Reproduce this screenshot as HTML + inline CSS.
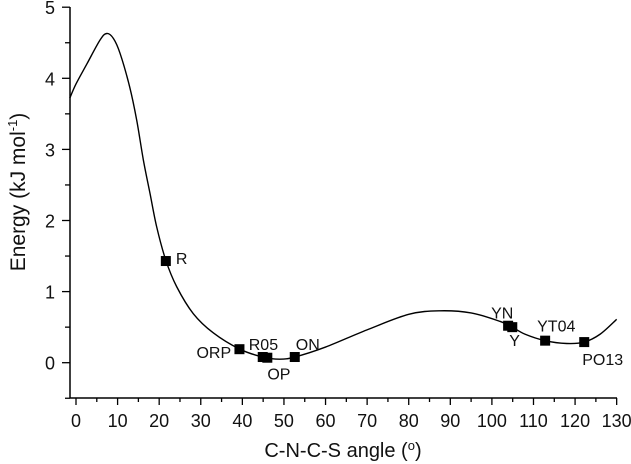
<!DOCTYPE html>
<html><head><meta charset="utf-8"><style>
html,body{margin:0;padding:0;background:#fff}
svg{display:block;font-family:"Liberation Sans",Arial,sans-serif}
</style></head><body>
<svg id="chart" width="631" height="464"></svg>
<script>
const curveX=[-1.5,0,2.6,5.8,7.4,9,10.6,12.9,14.6,16.2,17.8,19.4,21.6,24.2,28.2,33,39.4,44.9,49,52.6,60,69.9,80,87.5,95,102,104.9,108,112.8,118,122.2,126,130];
const curveY=[3.72,3.92,4.2,4.54,4.63,4.56,4.35,3.88,3.41,2.85,2.38,1.91,1.44,1.07,0.69,0.42,0.19,0.08,0.05,0.08,0.22,0.46,0.68,0.73,0.7,0.58,0.5,0.4,0.31,0.27,0.29,0.4,0.61];
const ptNames=["R","ORP","R05","OP","ON","YN","Y","YT04","PO13"];
const ptX=[21.6,39.3,44.9,46,52.6,103.9,104.9,112.8,122.2];
const ptY=[1.43,0.19,0.08,0.07,0.08,0.52,0.5,0.31,0.29];
const xTicks=[0,10,20,30,40,50,60,70,80,90,100,110,120,130];
const yTicks=[0,1,2,3,4,5];
const labelOff=[[10,-2],[-43,4],[-14,-12],[0,17],[1,-12],[-17,-12],[-3,14],[-8,-14],[-2,18]];
const NS="http://www.w3.org/2000/svg";
const svg=document.getElementById('chart');
const X=v=>76+v*4.159, Y=v=>362.7-v*71.1;
function mk(t,a,p){const e=document.createElementNS(NS,t);for(const k in a)e.setAttribute(k,a[k]);(p||svg).appendChild(e);return e;}
let ax=mk('line',{x1:70,y1:7,x2:70,y2:398,stroke:'#000','stroke-width':1.5});


ax=mk('line',{x1:70,y1:398,x2:617,y2:398,stroke:'#000','stroke-width':1.5});


for(let v=0;v<=130;v+=5){const x=X(v);mk('line',{x1:x,y1:398,x2:x,y2:v%10?402:405,stroke:'#000','stroke-width':1.3});}
xTicks.forEach(v=>{const t=mk('text',{x:X(v),y:427,'text-anchor':'middle','font-size':18,fill:'#111'});t.textContent=v;

});
for(let v=-0.5;v<=5;v+=0.5){const y=Y(v);mk('line',{x1:70,y1:y,x2:v%1?65:62,y2:y,stroke:'#000','stroke-width':1.3});}
yTicks.forEach(v=>{const t=mk('text',{x:55,y:Y(v)+7,'text-anchor':'end','font-size':18,fill:'#111'});t.textContent=v;

});
const P=curveX.map((x,i)=>[X(x),Y(curveY[i])]);
let d='M'+P[0][0]+','+P[0][1];
for(let i=0;i<P.length-1;i++){const p0=P[Math.max(0,i-1)],p1=P[i],p2=P[i+1],p3=P[Math.min(P.length-1,i+2)];
d+=' C'+(p1[0]+(p2[0]-p0[0])/6)+','+(p1[1]+(p2[1]-p0[1])/6)+' '+(p2[0]-(p3[0]-p1[0])/6)+','+(p2[1]-(p3[1]-p1[1])/6)+' '+p2[0]+','+p2[1];}
const c=mk('path',{d:d,fill:'none',stroke:'#000','stroke-width':1.4});


ptNames.forEach((n,i)=>{const x=X(ptX[i]),y=Y(ptY[i]);
const r=mk('rect',{x:x-5,y:y-5,width:10,height:10,fill:'#000'});


const t=mk('text',{x:x+labelOff[i][0],y:y+labelOff[i][1]+5,'font-size':16,fill:'#111'});t.textContent=n;

});
let t=mk('text',{x:343,y:457,'text-anchor':'middle','font-size':20,fill:'#111'});t.innerHTML='C-N-C-S angle (<tspan font-size="13" dy="-7">o</tspan><tspan dy="7">)</tspan>';


t=mk('text',{x:0,y:0,'text-anchor':'middle','font-size':21,fill:'#111',transform:'translate(25,192) rotate(-90)'});t.innerHTML='Energy (kJ mol<tspan font-size="13" dy="-8">-1</tspan><tspan dy="8">)</tspan>';


</script>
</body></html>
